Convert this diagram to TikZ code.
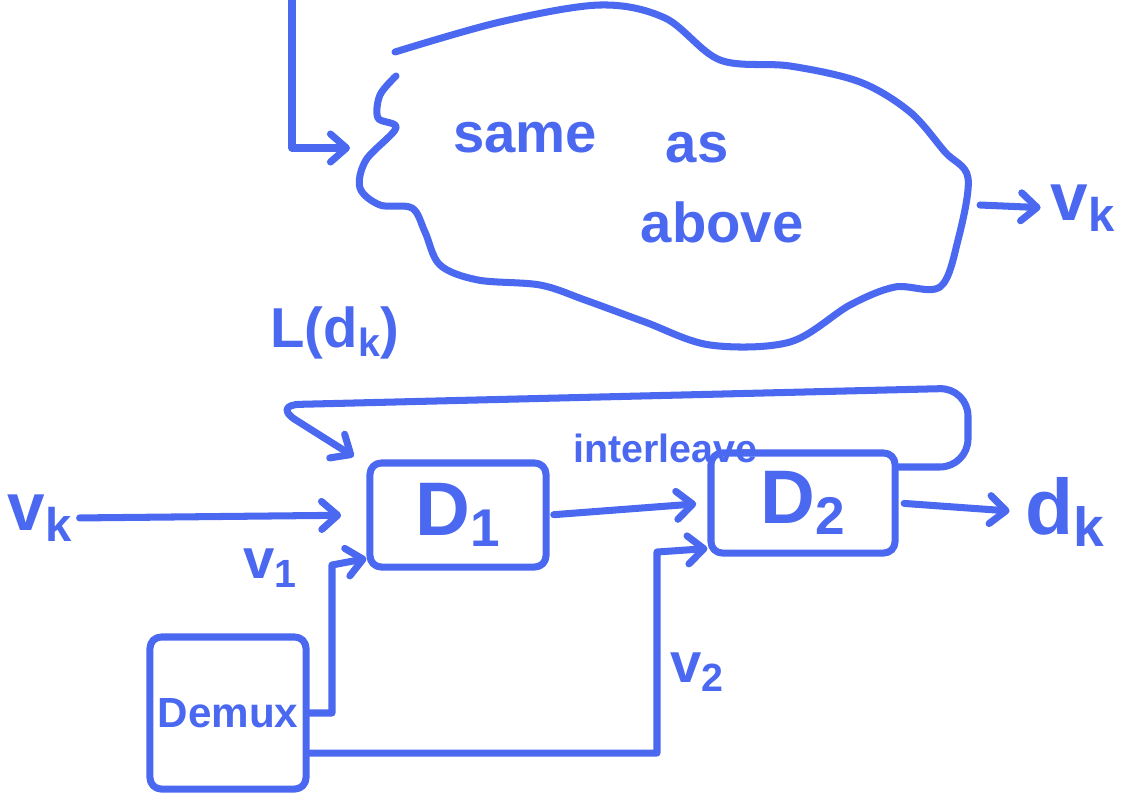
\documentclass[tikz,border=0pt]{standalone}
\usepackage{fix-cm}
\usepackage{fontspec}
\setmainfont{Liberation Sans}
\usepackage{tikz}
\usetikzlibrary{arrows.meta,positioning,calc}
\definecolor{inkblue}{RGB}{74,104,240}
\newcommand{\inksize}[1]{\fontsize{#1}{#1}\selectfont\bfseries}

\begin{document}
\begin{tikzpicture}[x=0.025cm,y=-0.025cm,
  sketch/.style={draw=inkblue,line width=5pt,line cap=round,line join=round},
  block/.style={sketch,rounded corners=8pt,text=inkblue,inner sep=2pt},
  arrow/.style={sketch,-{Straight Barb[length=4mm,width=7mm,round]}},
  lbl/.style={text=inkblue,inner sep=1pt,font=\inksize{40}}
]
\useasboundingbox (0,0) rectangle (1123,804);

% the "same as above" cloud
\draw[sketch] plot[smooth,tension=0.55] coordinates {(395,52) (500,22) (600,5)
  (665,18) (720,60) (790,66) (860,82) (910,112) (945,152) (968,178) (958,240)
  (940,287) (895,287) (850,305) (790,342) (710,345) (645,322) (585,300)
  (540,285) (478,280) (440,265) (425,232) (412,208) (380,205) (360,188)
  (366,160) (396,128) (378,118) (380,95) (396,76)};
\node[lbl] (sameT) at (525,138) {same};
\node[lbl] (asT) at (697,148) {as};
\node[lbl] (aboveT) at (722,222) {above};
\coordinate (topIn) at (292,-4);
\coordinate (cloudW) at (350,148);
\coordinate (cloudE) at (980,205);
\node[lbl,font=\inksize{48}] (vkOut) at (1083,208) {v\textsubscript{k}};
\draw[arrow] (topIn) |- (cloudW);
\draw[arrow,shorten >=6pt] (cloudE) -- (vkOut.west);

% decoders and demux
\node[block,minimum width=4.4cm,minimum height=2.6cm,font=\inksize{54}] (dOne) at (458,515) {D\textsubscript{1}};
\node[block,minimum width=4.6cm,minimum height=2.5cm,font=\inksize{54}] (dTwo) at (803,503) {D\textsubscript{2}};
\node[block,minimum width=3.9cm,minimum height=3.8cm,font=\inksize{30}] (demux) at (228,713) {Demux};
\node[lbl,font=\inksize{48}] (vkIn) at (40,518) {v\textsubscript{k}};
\node[lbl,font=\inksize{56}] (dkT) at (1065,512) {d\textsubscript{k}};
\node[lbl,font=\inksize{28}] (ilT) at (665,448) {interleave};
\node[lbl] (lossT) at (335,333) {L(d\textsubscript{k})};
\node[lbl] (vOneT) at (270,568) {v\textsubscript{1}};
\node[lbl] (vTwoT) at (697,672) {v\textsubscript{2}};
\coordinate (fbR) at (968,388);
\coordinate (fbL) at (272,405);
\coordinate (vOneB) at (332,565);
\coordinate (vTwoB) at (657,552);

\draw[arrow,shorten <=4pt,shorten >=18pt] (vkIn.east) -- (dOne.west);
\draw[arrow,shorten <=3pt,shorten >=8pt] (dOne.east) -- (dTwo.west);
\draw[arrow,shorten <=4pt,shorten >=10pt] (dTwo.east) -- (dkT.west);
\draw[arrow,rounded corners=20pt,shorten >=4pt] ([yshift=0.9cm]dTwo.east) -| (fbR) -- (fbL) -- ([xshift=-0.2cm]dOne.north west);
\draw[arrow] (demux.east) -| (vOneB) -- ([yshift=0.3cm]dOne.south west);
\draw[arrow] ([yshift=-1cm]demux.east) -| (vTwoB) -- ([yshift=0.2cm]dTwo.south west);
\end{tikzpicture}
\end{document}
